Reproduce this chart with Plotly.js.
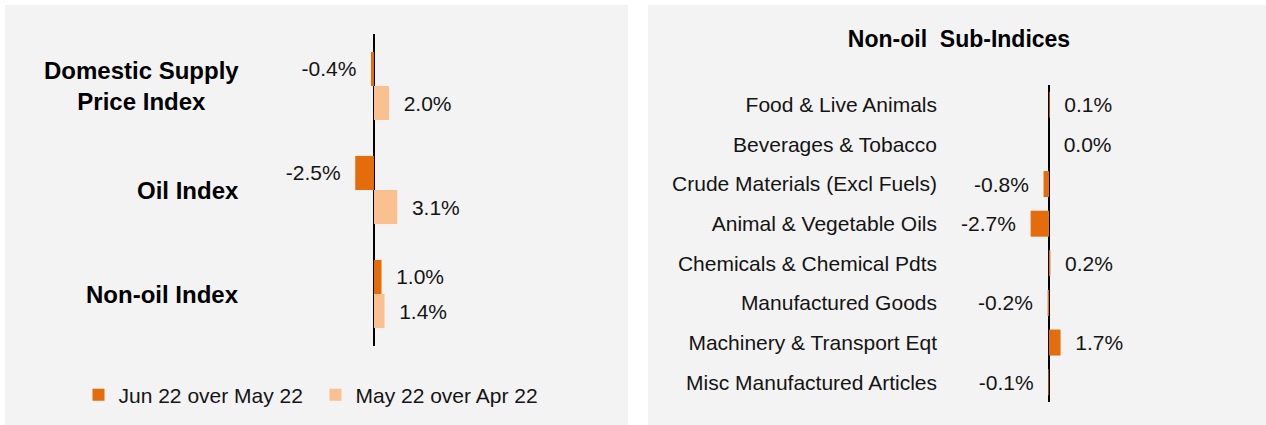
<!DOCTYPE html>
<html>
<head>
<meta charset="utf-8">
<script src="https://cdn.plot.ly/plotly-3.0.1.min.js"></script>
<style>
html,body{margin:0;padding:0;background:#ffffff;}
#chart{width:1266px;height:425px;}
</style>
</head>
<body>
<div id="chart"></div>
<script>
// ---- data ----
const leftCategories = ['Domestic Supply Price Index', 'Oil Index', 'Non-oil Index'];
const leftTickLabels = ['Domestic Supply<br>Price Index', 'Oil Index', 'Non-oil Index'];
const seriesNames = ['Jun 22 over May 22', 'May 22 over Apr 22'];
const junOverMay = [-0.4, -2.5, 1.0];
const mayOverApr = [2.0, 3.1, 1.4];

const rightTitle = 'Non-oil\u00a0 Sub-Indices';
const rightCategories = ['Food & Live Animals', 'Beverages & Tobacco', 'Crude Materials (Excl Fuels)',
  'Animal & Vegetable Oils', 'Chemicals & Chemical Pdts', 'Manufactured Goods',
  'Machinery & Transport Eqt', 'Misc Manufactured Articles'];
const subIndexValues = [0.1, 0.0, -0.8, -2.7, 0.2, -0.2, 1.7, -0.1];

// ---- style ----
const DARK = '#e46c0a';
const LIGHT = '#fac090';
const PANEL = '#f3f3f3';
const TXT = '#141414';
const W = 1266, H = 425;
const PAD = '\u00a0\u00a0';

function templates(vals) {
  return vals.map(v => v < 0 ? '%{x:.1f}%' + PAD : PAD + '%{x:.1f}%');
}

const textFont = {family: 'Liberation Sans, Arial, sans-serif', size: 21, color: TXT};

const traces = [
  {
    type: 'bar', orientation: 'h', name: seriesNames[0],
    y: leftCategories, x: junOverMay,
    xaxis: 'x', yaxis: 'y',
    marker: {color: DARK, line: {width: 0}},
    texttemplate: templates(junOverMay), textposition: 'outside',
    textfont: textFont, constraintext: 'none', cliponaxis: false,
    hoverinfo: 'skip'
  },
  {
    type: 'bar', orientation: 'h', name: seriesNames[1],
    y: leftCategories, x: mayOverApr,
    xaxis: 'x', yaxis: 'y',
    marker: {color: LIGHT, line: {width: 0}},
    texttemplate: templates(mayOverApr), textposition: 'outside',
    textfont: textFont, constraintext: 'none', cliponaxis: false,
    hoverinfo: 'skip'
  },
  {
    type: 'bar', orientation: 'h', name: 'Sub-indices', showlegend: false,
    y: rightCategories, x: subIndexValues,
    xaxis: 'x2', yaxis: 'y2',
    marker: {color: DARK, line: {width: 0}},
    texttemplate: templates(subIndexValues), textposition: 'outside',
    textfont: textFont, constraintext: 'none', cliponaxis: false,
    hoverinfo: 'skip'
  }
];

// left plot: zero at x=374px, ~7.5 px per %
const L0 = 250, L1 = 610, LZ = 374, LS = 7.5;
// right plot: zero at x=1049px, ~6.8 px per %
const R0 = 945, R1 = 1250, RZ = 1049, RS = 6.8;

const annotations = leftCategories.map((c, i) => ({
  xref: 'paper', yref: 'y', x: 241 / W, y: c,
  xanchor: 'right', yanchor: 'middle', align: 'center',
  text: leftTickLabels[i], showarrow: false,
  font: {family: 'Liberation Sans, Arial, sans-serif', size: 24, color: '#000', weight: 'bold'}
}));

const layout = {
  width: W, height: H, autosize: false,
  margin: {l: 0, r: 0, t: 0, b: 0, pad: 0},
  paper_bgcolor: '#ffffff', plot_bgcolor: 'rgba(0,0,0,0)',
  barmode: 'group', bargap: 0.345, bargroupgap: 0,
  showlegend: true,
  font: textFont,
  title: {
    text: '<b>' + rightTitle + '</b>',
    font: {family: 'Liberation Sans, Arial, sans-serif', size: 23, color: '#000'},
    x: 959 / W, xanchor: 'center', xref: 'paper',
    y: (H - 39) / H, yanchor: 'middle', yref: 'container'
  },
  legend: {
    orientation: 'h', x: 0.062, xanchor: 'left', y: (H - 395) / H, yanchor: 'middle',
    font: textFont, bgcolor: 'rgba(0,0,0,0)', entrywidth: 192, entrywidthmode: 'pixels',
    traceorder: 'normal'
  },
  xaxis: {
    domain: [L0 / W, L1 / W], range: [-(LZ - L0) / LS, (L1 - LZ) / LS],
    showgrid: false, showticklabels: false, ticks: '', showline: false,
    zeroline: true, zerolinecolor: '#000000', zerolinewidth: 2, fixedrange: true
  },
  yaxis: {
    domain: [(H - 346) / H, (H - 34) / H], autorange: 'reversed',
    showgrid: false, showticklabels: false, ticks: '', showline: false, zeroline: false,
    fixedrange: true
  },
  xaxis2: {
    domain: [R0 / W, R1 / W], range: [-(RZ - R0) / RS, (R1 - RZ) / RS], anchor: 'y2',
    showgrid: false, showticklabels: false, ticks: '', showline: false,
    zeroline: true, zerolinecolor: '#000000', zerolinewidth: 2, fixedrange: true
  },
  yaxis2: {
    domain: [(H - 402) / H, (H - 85) / H], autorange: 'reversed', anchor: 'x2',
    showgrid: false, showticklabels: true, ticks: '', showline: false, zeroline: false,
    tickfont: textFont, automargin: false, fixedrange: true, ticklabelstandoff: 7
  },
  shapes: [
    {type: 'rect', xref: 'paper', yref: 'paper', x0: 5 / W, x1: 628 / W, y0: 0, y1: (H - 5) / H,
     fillcolor: PANEL, line: {width: 0}, layer: 'below'},
    {type: 'rect', xref: 'paper', yref: 'paper', x0: 648 / W, x1: 1, y0: 0, y1: (H - 5) / H,
     fillcolor: PANEL, line: {width: 0}, layer: 'below'}
  ],
  annotations: annotations
};

Plotly.newPlot('chart', traces, layout, {displayModeBar: false, staticPlot: true});
</script>
</body>
</html>
